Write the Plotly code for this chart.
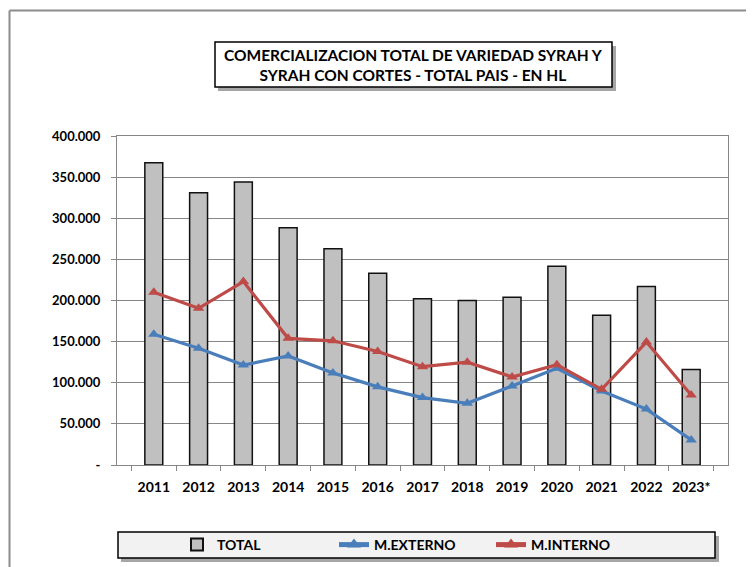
import plotly.graph_objects as go

years = ["2011", "2012", "2013", "2014", "2015", "2016", "2017", "2018", "2019", "2020", "2021", "2022", "2023*"]
total = [367500, 331000, 344000, 288500, 263000, 233000, 202000, 200000, 204000, 241500, 182000, 217000, 116000]
externo = [159000, 142000, 121500, 132500, 112000, 95000, 82000, 75000, 96000, 117500, 90000, 68000, 30500]
interno = [210000, 190500, 223000, 154000, 151000, 138000, 119500, 125000, 107000, 122000, 92000, 149500, 85000]

ytick_vals = [0, 50000, 100000, 150000, 200000, 250000, 300000, 350000, 400000]
ytick_text = ["-", "50.000", "100.000", "150.000", "200.000", "250.000", "300.000", "350.000", "400.000"]

FONT = "Lato"

fig = go.Figure()
fig.add_trace(go.Bar(
    x=years, y=total, name="TOTAL",
    marker=dict(color="#c0c0c0", line=dict(color="#111111", width=1.5)),
))
fig.add_trace(go.Scatter(
    x=years, y=externo, name="M.EXTERNO", mode="lines+markers",
    line=dict(color="#4a7ebb", width=3.2),
    marker=dict(symbol="triangle-up", size=10, color="#4a7ebb"),
))
fig.add_trace(go.Scatter(
    x=years, y=interno, name="M.INTERNO", mode="lines+markers",
    line=dict(color="#be4b48", width=3.2),
    marker=dict(symbol="triangle-up", size=10, color="#be4b48"),
))

OFF = 8  # page body margin
W, H = 754 - OFF, 567 - OFF
L = 117 - OFF
T = 136 - OFF
R = W - (728 - OFF)
B = H - (465 - OFF)
pw, ph = W - L - R, H - T - B

def px(x):
    return (x - OFF - L) / pw

def py(y):
    return (H - B - (y - OFF)) / ph

shapes = []
# outer frame (top and left)
shapes.append(dict(type="line", xref="paper", yref="paper", x0=px(9.5), x1=px(760), y0=py(10.5), y1=py(10.5),
                   line=dict(color="#8c8c8c", width=2)))
shapes.append(dict(type="line", xref="paper", yref="paper", x0=px(9.5), x1=px(9.5), y0=py(10.5), y1=py(570),
                   line=dict(color="#8c8c8c", width=2)))
# title box shadow + box
shapes.append(dict(type="rect", xref="paper", yref="paper", x0=px(218), x1=px(616), y0=py(91), y1=py(46),
                   fillcolor="rgba(0,0,0,0.35)", line=dict(width=0)))
shapes.append(dict(type="rect", xref="paper", yref="paper", x0=px(215), x1=px(612), y0=py(87), y1=py(42),
                   fillcolor="white", line=dict(color="black", width=1.5)))
# legend box shadow + box
shapes.append(dict(type="rect", xref="paper", yref="paper", x0=px(121), x1=px(719), y0=py(562), y1=py(536),
                   fillcolor="rgba(0,0,0,0.35)", line=dict(width=0)))
shapes.append(dict(type="rect", xref="paper", yref="paper", x0=px(118), x1=px(715), y0=py(558), y1=py(532),
                   fillcolor="#f2f2f2", line=dict(color="black", width=1.5)))

fig.update_layout(
    width=W, height=H,
    margin=dict(l=L, r=R, t=T, b=B, autoexpand=False),
    paper_bgcolor="white", plot_bgcolor="white",
    bargap=0.6,
    showlegend=True,
    legend=dict(
        orientation="h", x=px(177), xanchor="left", y=py(545), yanchor="middle",
        bgcolor="rgba(0,0,0,0)", borderwidth=0,
        font=dict(family=FONT, size=14, color="black", weight="bold"),
        entrywidth=112, entrywidthmode="pixels",
        itemsizing="constant",
    ),
    shapes=shapes,
    annotations=[dict(
        xref="paper", yref="paper", x=px(413.5), y=py(65), xanchor="center", yanchor="middle",
        text="COMERCIALIZACION TOTAL DE VARIEDAD SYRAH Y<br>SYRAH CON CORTES - TOTAL PAIS - EN HL",
        showarrow=False, font=dict(family=FONT, size=15.5, color="black", weight="bold"),
        align="center",
    )],
    xaxis=dict(
        type="category", tickson="boundaries", ticks="outside", ticklen=5, tickcolor="#868686",
        showline=True, linecolor="#868686", linewidth=1, mirror=True,
        showgrid=False, tickangle=0, automargin=False,
        tickfont=dict(family=FONT, size=14, color="black", weight="bold"),
        ticklabelstandoff=9,
    ),
    yaxis=dict(
        range=[0, 400000], tickvals=ytick_vals, ticktext=ytick_text,
        ticks="outside", ticklen=5, tickcolor="#868686",
        showline=True, linecolor="#868686", linewidth=1, mirror=True,
        showgrid=True, gridcolor="#868686", gridwidth=1, zeroline=False,
        automargin=False,
        tickfont=dict(family=FONT, size=13, color="black", weight="bold"),
        ticklabelstandoff=8,
    ),
)

fig.write_html("out.html")
